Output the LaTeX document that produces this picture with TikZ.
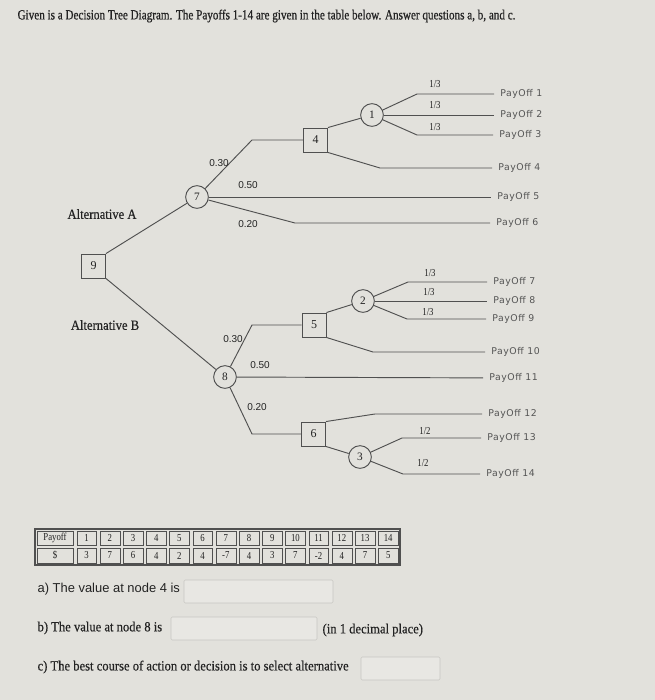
\documentclass[tikz,border=0pt]{standalone}
\usepackage{fontspec}
\setmainfont{Liberation Serif}
\setsansfont{Liberation Sans}
\newfontfamily\payfont{DejaVu Sans}[LetterSpace=6]
\newfontfamily\narrowserif{Liberation Serif}[FakeStretch=0.82]
\newfontfamily\titleserif{Liberation Serif}[FakeStretch=0.795,FakeBold=0.6]
\newfontfamily\textserif{Liberation Serif}[FakeStretch=0.9,FakeBold=0.4]
\definecolor{bgc}{RGB}{226,225,220}
\definecolor{linec}{RGB}{80,80,80}
\definecolor{textc}{RGB}{35,35,35}
\definecolor{payc}{RGB}{85,85,85}
\definecolor{boxc}{RGB}{232,231,227}
\definecolor{boxline}{RGB}{200,199,195}
\tikzset{
  decision/.style={draw=linec,fill=bgc,line width=0.7pt,minimum size=18pt,inner sep=0pt,text=textc,font=\fontsize{9}{10}\selectfont},
  chance/.style={circle,draw=linec,fill=bgc,line width=0.7pt,minimum size=17pt,inner sep=0pt,text=textc,font=\fontsize{8.5}{10}\selectfont},
  prob/.style={text=textc,font=\sffamily\fontsize{7.5}{9}\selectfont},
  frac/.style={text=textc,font=\narrowserif\fontsize{8}{9}\selectfont},
  payoff/.style={anchor=west,inner xsep=4.5pt,inner ysep=1pt,text=payc,font=\payfont\fontsize{7}{8}\selectfont},
  alt/.style={text=textc,font=\textserif\fontsize{10.5}{12}\selectfont},
  cell/.style={text=textc,font=\narrowserif\fontsize{8}{9}\selectfont},
  question/.style={anchor=west,inner xsep=1pt,text=textc,font=\textserif\fontsize{10.5}{12}\selectfont},
  ansbox/.style={draw=boxline,fill=boxc,rounded corners=1pt},
}
\begin{document}
\begin{tikzpicture}[x=0.75pt,y=-0.75pt]
      \fill[bgc] (0,0) rectangle (655,700);
      \useasboundingbox (0,0) rectangle (655,700);
      \node[anchor=west,inner xsep=1pt,text=textc,font=\titleserif\fontsize{10.5}{12}\selectfont] (title) at (16,16)
        {Given is a Decision Tree Diagram. The Payoffs 1-14 are given in the table below. Answer questions a, b, and c.};
      \draw
        (93.5,266) node[decision] (9){9}
        (197,197) node[chance] (7){7}
        (225,377) node[chance] (8){8}
        (315.5,140) node[decision] (4){4}
        (314,325) node[decision] (5){5}
        (313.5,434) node[decision] (6){6}
        (372,115) node[chance] (1){1}
        (363,301) node[chance] (2){2}
        (360,457) node[chance] (3){3};
      \foreach \x/\y [count=\i] in {494/94,494/115,493/135,492/168,491/197,490/223,487/282,
          487/301,486/319,485/352,483/378,482/414,481/438,480/474}
        \node[payoff] (p\i) at (\x,\y) {PayOff \i};
      \coordinate (a30) at (252,140);
      \coordinate (a20) at (295,223);
      \coordinate (b30) at (252,325);
      \coordinate (b20) at (252,434);
      \coordinate (e1) at (417,94);
      \coordinate (e3) at (417,135);
      \coordinate (e4) at (380,168);
      \coordinate (f1) at (408,282);
      \coordinate (f3) at (407,319);
      \coordinate (f4) at (373,352);
      \coordinate (g1) at (375,414);
      \coordinate (g2) at (402,438);
      \coordinate (g3) at (403,474);
      \begin{scope}[draw=linec,line width=0.7pt]
        \draw (9.north east) to (7);
        \draw (9.south east) to (8);
        \draw (7) to (a30) to (4);
        \draw (7) to (p5);
        \draw (7) to (a20) to (p6);
        \draw (4.north east) to (1);
        \draw (4.south east) to (e4) to (p4);
        \draw (1) to (e1) to (p1);
        \draw (1) to (p2);
        \draw (1) to (e3) to (p3);
        \draw (8) to (b30) to (5);
        \draw (8) to (p11);
        \draw (8) to (b20) to (6);
        \draw (5.north east) to (2);
        \draw (5.south east) to (f4) to (p10);
        \draw (2) to (f1) to (p7);
        \draw (2) to (p8);
        \draw (2) to (f3) to (p9);
        \draw (6.north east) to (g1) to (p12);
        \draw (6.south east) to (3);
        \draw (3) to (g2) to (p13);
        \draw (3) to (g3) to (p14);
      \end{scope}
      \node[alt] (altA) at (102,214) {Alternative A};
      \node[alt] (altB) at (105,325) {Alternative B};
      \node[prob] at (219,163) {0.30};
      \node[prob] at (248,185) {0.50};
      \node[prob] at (248,224) {0.20};
      \node[prob] at (233,339) {0.30};
      \node[prob] at (260,365) {0.50};
      \node[prob] at (257,407) {0.20};
      \foreach \x/\y in {435/84,435/105,435/127,430/273,429/292,428/312}
        \node[frac] at (\x,\y) {1/3};
      \foreach \x/\y in {425/431,423/463}
        \node[frac] at (\x,\y) {1/2};
      \draw[linec,line width=0.8pt] (35,529) rectangle (400,565);
      \draw[linec,line width=0.5pt] (37,531) rectangle (73,545) (37,548) rectangle (73,563);
      \node[cell] (hp) at (55,538) {Payoff};
      \node[cell] (hs) at (55,555.5) {\$};
      \foreach \v [count=\i] in {3,7,6,4,2,4,-7,4,3,7,-2,4,7,5} {
        \draw[linec,line width=0.5pt] (53.8+23.2*\i,531) rectangle (73.5+23.2*\i,545)
          (53.8+23.2*\i,548) rectangle (73.5+23.2*\i,563);
        \node[cell] (t\i) at (63.4+23.2*\i,538) {\i};
        \node[cell] (v\i) at (63.4+23.2*\i,555.5) {\v};
      }
      \node[question,font=\sffamily\fontsize{9.7}{11}\selectfont] (qa) at (36,589) {a) The value at node 4 is};
      \draw[ansbox] (184,580) rectangle (333,603);
      \node[question] (qb) at (36,628) {b) The value at node 8 is};
      \draw[ansbox] (171,617) rectangle (317,640);
      \node[question] (qbn) at (321,630) {(in 1 decimal place)};
      \node[question] (qc) at (36,667) {c) The best course of action or decision is to select alternative};
      \draw[ansbox] (361,657) rectangle (440,680);
    \end{tikzpicture}
\end{document}
